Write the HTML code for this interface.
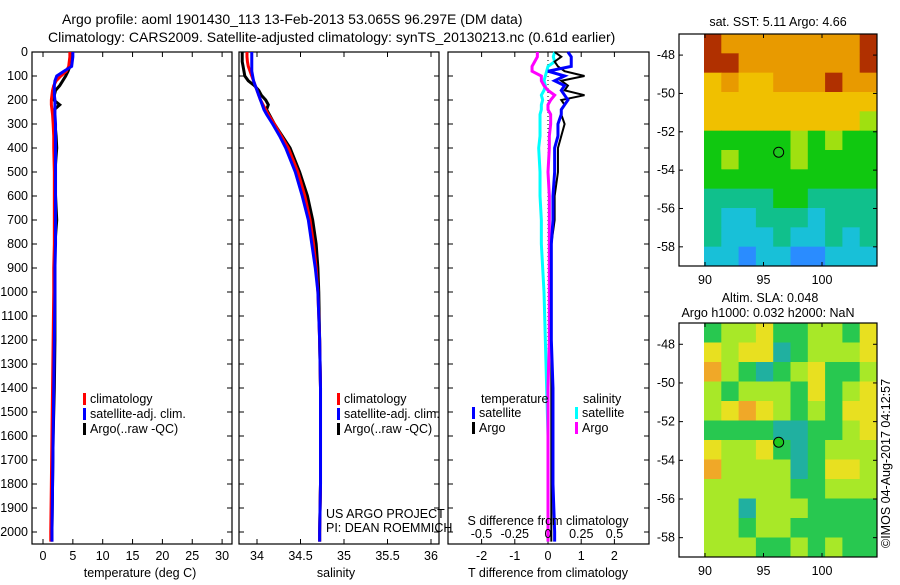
<!DOCTYPE html>
<html><head><meta charset="utf-8"><style>
body{margin:0;background:#fff;}
svg text{font-family:"Liberation Sans",sans-serif;font-size:12.5px;fill:#000;}
</style></head><body>
<svg id="chart" width="900" height="580" xmlns="http://www.w3.org/2000/svg">
<text x="62" y="24" style="font-size:14px">Argo profile: aoml 1901430_113 13-Feb-2013 53.065S 96.297E (DM data)</text>
<text x="48" y="42" style="font-size:14px">Climatology: CARS2009. Satellite-adjusted climatology: synTS_20130213.nc (0.61d earlier)</text>
<g id="g"></g>
</svg>
<script>
// ---- data ----
const depths   = [0,20,40,60,80,100,120,140,160,180,200,220,240,260,300,350,400,500,600,700,800,900,1000,1200,1400,1600,1800,2000,2040];
const tempClim = [4.5,4.5,4.4,4.3,3.9,3.0,2.2,1.8,1.6,1.5,1.4,1.4,1.5,1.6,1.7,1.8,1.8,1.9,1.9,1.9,1.9,1.8,1.8,1.7,1.6,1.5,1.4,1.3,1.3];
const tempSat  = [5.0,5.0,4.9,4.8,3.5,2.3,2.0,1.9,1.9,1.9,2.0,2.0,2.0,2.0,2.1,2.1,2.1,2.1,2.1,2.1,2.1,2.0,2.0,1.9,1.8,1.7,1.6,1.5,1.5];
const tempArgo = [4.7,4.6,4.6,4.5,4.2,3.8,3.3,2.8,2.1,1.9,1.8,2.8,1.9,1.9,2.0,2.2,2.3,2.0,2.1,2.3,2.0,2.0,2.0,2.0,1.9,1.7,1.6,1.5,1.5];
const salClim  = [33.885,33.885,33.89,33.9,33.92,33.94,33.96,33.98,34.0,34.02,34.04,34.07,34.1,34.13,34.2,34.28,34.36,34.47,34.55,34.61,34.65,34.68,34.7,34.72,34.73,34.73,34.73,34.72,34.72];
const salSat   = [33.94,33.94,33.94,33.94,33.94,33.95,33.96,33.98,34.0,34.02,34.04,34.06,34.08,34.11,34.18,34.26,34.33,34.44,34.52,34.59,34.63,34.67,34.7,34.72,34.73,34.73,34.73,34.72,34.72];
const salArgo  = [33.83,33.83,33.83,33.84,33.85,33.86,33.9,33.97,34.02,34.05,34.1,34.13,34.11,34.14,34.2,34.29,34.38,34.49,34.58,34.64,34.68,34.7,34.71,34.72,34.73,34.73,34.73,34.72,34.72];
const dTsat    = [0.6,0.7,0.7,0.7,0.0,0.5,0.2,0.5,0.4,0.5,0.6,0.5,0.4,0.4,0.3,0.3,0.2,0.2,0.15,0.15,0.1,0.1,0.1,0.1,0.15,0.15,0.15,0.2,0.2];
const dTargo   = [0.2,0.4,0.2,0.3,0.5,1.1,0.4,0.6,0.5,1.1,0.4,0.5,0.4,0.4,0.5,0.4,0.3,0.3,0.2,0.2,0.1,0.1,0.1,0.1,0.1,0.1,0.1,0.1,0.1];
const dSsat    = [0.05,0.04,0.05,0.0,-0.01,-0.02,-0.03,-0.02,-0.03,-0.05,-0.04,-0.05,-0.05,-0.06,-0.06,-0.06,-0.07,-0.06,-0.06,-0.05,-0.05,-0.04,-0.03,-0.02,-0.01,0.0,0.0,0.0,0.0];
const dSargo   = [-0.08,-0.08,-0.1,-0.12,-0.12,-0.05,-0.05,-0.03,0.0,0.05,0.02,0.0,0.0,0.02,0.02,0.01,0.01,0.0,0.01,0.01,0.01,0.01,0.01,0.01,0.0,0.0,0.0,0.0,0.0];
const depthTicks = [0,100,200,300,400,500,600,700,800,900,1000,1100,1200,1300,1400,1500,1600,1700,1800,1900,2000];
const tempTicks  = [0,5,10,15,20,25,30];
const salTicks   = [34,34.5,35,35.5,36];
const dTTicks    = [-2,-1,0,1,2];
const dSTicks    = [-0.5,-0.25,0,0.25,0.5];
const latTicks   = [-48,-50,-52,-54,-56,-58];
const lonTicks   = [90,95,100];
const sstGrid = [
[8,7,7,7,7,7,7,7,7,8],[8,8,7,7,7,7,7,7,7,8],[6,7,6,6,7,7,7,8,7,7],[6,6,6,6,6,6,6,6,6,6],
[6,6,6,6,6,6,6,6,6,5],[4,4,4,4,4,5,4,5,4,4],[4,5,4,4,4,5,4,4,4,4],[4,4,4,4,4,4,4,4,4,4],
[3,3,3,3,4,4,3,3,3,3],[3,2,2,3,3,3,2,3,3,3],[3,2,2,2,3,2,2,3,2,3],[2,2,1,2,2,1,1,2,2,2]];
const slaGrid = [
[2,3,3,4,2,2,3,3,2,4],[4,3,4,4,1,2,3,3,3,4],[5,3,2,1,2,3,4,2,2,3],[3,2,3,3,3,2,4,2,3,4],
[3,4,5,4,3,2,3,2,4,4],[2,2,2,2,1,1,2,2,3,4],[4,3,3,4,2,1,2,3,3,3],[5,3,3,3,3,1,2,4,4,3],
[3,3,3,3,3,2,2,3,3,3],[3,3,1,3,3,3,2,2,2,2],[3,3,2,3,3,2,2,2,2,2],[3,3,3,2,2,3,2,3,2,2]];
const floatLon = 96.297, floatLat = -53.065;

// ---- scales ----
const NS="http://www.w3.org/2000/svg", G=document.getElementById('g');
function el(t,a,txt){const e=document.createElementNS(NS,t);for(const k in a)e.setAttribute(k,a[k]);if(txt!==undefined)e.textContent=txt;G.appendChild(e);return e;}
const yD = d => 52 + d*0.24;
const xT = v => 43 + v*5.97;
const xS = v => 257 + (v-34)*87;
const xDT = v => 548 + v*33.2;
const xDS = v => 548 + v*133;
const TOP=52, BOT=544;

function frame(x0,x1,name){
  const r=el('rect',{x:x0,y:TOP,width:x1-x0,height:BOT-TOP,fill:'none',stroke:'#000','stroke-width':1.2});
   
  depthTicks.forEach(d=>{el('line',{x1:x0,x2:x0+5,y1:yD(d),y2:yD(d),stroke:'#000'});el('line',{x1:x1-5,x2:x1,y1:yD(d),y2:yD(d),stroke:'#000'});});
}
function line(xs,scale,color,name,w){
  const p=el('polyline',{points:xs.map((v,i)=>scale(v)+','+yD(depths[i])).join(' '),fill:'none',stroke:color,'stroke-width':w||3});
   
}
// panel 1
frame(32,232,'temperature-panel');
depthTicks.forEach(d=>{const t=el('text',{x:28,y:yD(d)+4,'text-anchor':'end'},d);});
tempTicks.forEach(v=>{el('line',{x1:xT(v),x2:xT(v),y1:BOT,y2:BOT-5,stroke:'#000'});el('line',{x1:xT(v),x2:xT(v),y1:TOP,y2:TOP+5,stroke:'#000'});
 const t=el('text',{x:xT(v),y:560,'text-anchor':'middle'},v);});
let t=el('text',{x:140,y:577,'text-anchor':'middle'},'temperature (deg C)');
line(tempArgo,xT,'#000','temp-argo-line');line(tempClim,xT,'#f00','temp-clim-line');line(tempSat,xT,'#00f','temp-sat-line');
function legend(x,y,items,pre){items.forEach((it,i)=>{el('rect',{x:x,y:y+i*15-10,width:3,height:12,fill:it[0]});
 const tt=el('text',{x:x+7,y:y+i*15},it[1]);});}
legend(83,403,[['#f00','climatology'],['#00f','satellite-adj. clim.'],['#000','Argo(..raw -QC)']],'temp');
// panel 2
frame(239,439,'salinity-panel');
salTicks.forEach(v=>{el('line',{x1:xS(v),x2:xS(v),y1:BOT,y2:BOT-5,stroke:'#000'});el('line',{x1:xS(v),x2:xS(v),y1:TOP,y2:TOP+5,stroke:'#000'});
 const t=el('text',{x:xS(v),y:560,'text-anchor':'middle'},v);});
t=el('text',{x:336,y:577,'text-anchor':'middle'},'salinity');
line(salArgo,xS,'#000','sal-argo-line');line(salClim,xS,'#f00','sal-clim-line');line(salSat,xS,'#00f','sal-sat-line');
legend(337,403,[['#f00','climatology'],['#00f','satellite-adj. clim.'],['#000','Argo(..raw -QC)']],'sal');
t=el('text',{x:326,y:518},'US ARGO PROJECT');
t=el('text',{x:326,y:532},'PI: DEAN ROEMMICH');
// panel 3
frame(448,649,'difference-panel');
el('line',{x1:xDT(0),x2:xDT(0),y1:TOP,y2:BOT,stroke:'#000','stroke-dasharray':'1,3'});
dTTicks.forEach(v=>{el('line',{x1:xDT(v),x2:xDT(v),y1:BOT,y2:BOT-5,stroke:'#000'});el('line',{x1:xDT(v),x2:xDT(v),y1:TOP,y2:TOP+5,stroke:'#000'});
 const t=el('text',{x:xDT(v),y:560,'text-anchor':'middle'},v);});
line(dSsat,xDS,'#0ff','s-diff-sat-line');line(dTargo,xDT,'#000','t-diff-argo-line',2);line(dSargo,xDS,'#f0f','s-diff-argo-line');line(dTsat,xDT,'#00f','t-diff-sat-line');
dSTicks.forEach(v=>{const t=el('text',{x:xDS(v),y:538,'text-anchor':'middle'},v);});
t=el('text',{x:548,y:525,'text-anchor':'middle'},'S difference from climatology');
t=el('text',{x:548,y:577,'text-anchor':'middle'},'T difference from climatology');
t=el('text',{x:481,y:403},'temperature');
t=el('text',{x:583,y:403},'salinity');
legend(472,417,[['#00f','satellite'],['#000','Argo']],'dT');
legend(575,417,[['#0ff','satellite'],['#f0f','Argo']],'dS');
// maps
const sstCol={1:'#2a8cff',2:'#18c0d8',3:'#10c08c',4:'#10c810',5:'#a0e010',6:'#f0c000',7:'#e89a00',8:'#b03000'};
const slaCol={1:'#20b0a0',2:'#28c850',3:'#a8e828',4:'#e8e020',5:'#f0a828'};
function map(y0,y1,grid,cols,name){
  const x0=679,x1=877,ix0=704, latY=l=>y0+(-46.9-l)*((y1-y0)/12.1), lonX=o=>705+(o-90)*11.7;
  const cw=(x1-ix0)/10, ch=(y1-y0)/grid.length;
  grid.forEach((row,r)=>row.forEach((v,c)=>{const q=el('rect',{x:ix0+c*cw,y:y0+r*ch,width:cw+0.5,height:ch+0.5,fill:cols[v]});
    }));
  const f=el('rect',{x:x0,y:y0,width:x1-x0,height:y1-y0,fill:'none',stroke:'#000','stroke-width':1.2});
  latTicks.forEach(l=>{el('line',{x1:x0,x2:x0+4,y1:latY(l),y2:latY(l),stroke:'#000'});el('line',{x1:x1-4,x2:x1,y1:latY(l),y2:latY(l),stroke:'#000'});
    const t=el('text',{x:675,y:latY(l)+4,'text-anchor':'end'},l);});
  lonTicks.forEach(o=>{el('line',{x1:lonX(o),x2:lonX(o),y1:y1,y2:y1-4,stroke:'#000'});el('line',{x1:lonX(o),x2:lonX(o),y1:y0,y2:y0+4,stroke:'#000'});
    const t=el('text',{x:lonX(o),y:y1+18,'text-anchor':'middle'},o);});
  const c=el('circle',{cx:lonX(floatLon),cy:latY(floatLat),r:5,fill:'#1ec81e',stroke:'#000'});
}
map(34,266,sstGrid,sstCol,'sst-map');
map(323,557,slaGrid,slaCol,'sla-map');
t=el('text',{x:778,y:26,'text-anchor':'middle'},'sat. SST: 5.11 Argo: 4.66');
t=el('text',{x:770,y:302,'text-anchor':'middle'},'Altim. SLA: 0.048');
t=el('text',{x:768,y:317,'text-anchor':'middle'},'Argo h1000: 0.032 h2000: NaN');
t=el('text',{x:0,y:0,transform:'translate(890,548) rotate(-90)'},'©IMOS 04-Aug-2017 04:12:57');
</script>
</body></html>
